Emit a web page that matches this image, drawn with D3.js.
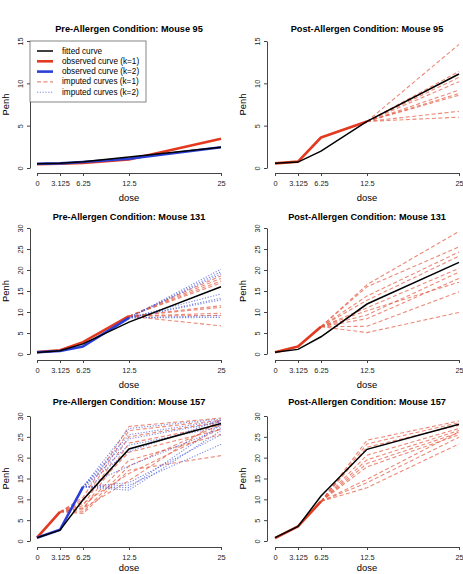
<!DOCTYPE html>
<html><head><meta charset="utf-8">
<script src="https://cdn.jsdelivr.net/npm/d3@7"></script>
<style>body{margin:0;background:#fff}svg{display:block;font-family:"Liberation Sans",Arial,sans-serif}</style>
</head><body><svg id="c" width="463" height="574"></svg>
<script>
const doses = [0, 3.125, 6.25, 12.5, 25];
const doseLabels = ["0", "3.125", "6.25", "12.5", "25"];
const titles = ["Pre-Allergen Condition: Mouse 95", "Post-Allergen Condition: Mouse 95",
  "Pre-Allergen Condition: Mouse 131", "Post-Allergen Condition: Mouse 131",
  "Pre-Allergen Condition: Mouse 157", "Post-Allergen Condition: Mouse 157"];
const yMaxes = [15, 15, 30, 30, 30, 30];
const legendLabels = ["fitted curve", "observed curve (k=1)", "observed curve (k=2)", "imputed curves (k=1)", "imputed curves (k=2)"];

// fitted curves
const pre95Fitted = [0.5, 0.55, 0.75, 1.3, 2.45];
const post95Fitted = [0.55, 0.7, 2.0, 5.5, 11.1];
const pre131Fitted = [0.35, 0.8, 2.4, 7.6, 16.0];
const post131Fitted = [0.4, 1.1, 4.1, 11.9, 21.8];
const pre157Fitted = [0.8, 2.6, 9.9, 22.1, 28.2];
const post157Fitted = [0.8, 3.5, 10.8, 22.0, 28.0];
// observed curves (values at the first doses)
const pre95Obs1 = [0.45, 0.5, 0.6, 1.0, 3.45];
const pre95Obs2 = [0.5, 0.55, 0.7, 1.1, 2.45];
const post95Obs1 = [0.55, 0.75, 3.6, 5.5];
const pre131Obs1 = [0.45, 0.9, 2.8, 9.0];
const pre131Obs2 = [0.4, 0.7, 1.8, 8.6];
const post131Obs1 = [0.4, 1.8, 6.5];
const pre157Obs1 = [0.8, 7.0];
const pre157Obs2 = [0.8, 2.7, 13.0];
const post157Obs1 = [0.7, 3.5, 9.5];
// imputed curves (values at the missing doses)
const post95Imp1 = [[14.6], [11.4], [11.1], [10.7], [10.2], [9.2], [8.8], [8.6], [6.7], [6.0]];
const pre131Imp1 = [[18.6], [18.0], [17.4], [16.9], [11.5], [11.1], [9.7], [9.2], [6.7]];
const pre131Imp2 = [[20.2], [19.6], [19.1], [14.3], [13.3], [12.9], [9.1], [8.7]];
const post131Imp1 = [[16.5, 29.2], [16.0, 25.5], [13.8, 24.3], [12.8, 23.3], [11.0, 20.4], [9.3, 19.5], [8.4, 18.0], [10.3, 17.1], [6.6, 14.8], [5.1, 9.9]];
const pre157Imp1 = [[10.5, 27.5, 29.5], [9.5, 26.5, 29.0], [8.5, 25.0, 28.6], [7.5, 23.5, 27.8], [10.0, 21.3, 26.8], [8.0, 19.4, 25.6], [7.0, 18.0, 28.0], [6.6, 17.0, 20.5], [9.0, 16.2, 27.0], [7.8, 14.5, 29.2]];
const pre157Imp2 = [[27.0, 29.3], [25.5, 28.9], [24.5, 28.5], [23.0, 27.4], [21.5, 29.0], [18.0, 27.0], [14.0, 25.5], [13.4, 23.2], [12.8, 28.0], [12.2, 26.5]];
const post157Imp1 = [[24.2, 28.8], [23.3, 28.4], [22.5, 27.8], [20.6, 27.0], [19.5, 26.5], [18.6, 26.0], [17.8, 25.5], [14.8, 26.2], [14.0, 24.9], [12.8, 23.3]];

const panels = [
  {fit: pre95Fitted, obs1: pre95Obs1, obs2: pre95Obs2, imp1: [], imp2: []},
  {fit: post95Fitted, obs1: post95Obs1, obs2: null, imp1: post95Imp1, imp2: []},
  {fit: pre131Fitted, obs1: pre131Obs1, obs2: pre131Obs2, imp1: pre131Imp1, imp2: pre131Imp2},
  {fit: post131Fitted, obs1: post131Obs1, obs2: null, imp1: post131Imp1, imp2: []},
  {fit: pre157Fitted, obs1: pre157Obs1, obs2: pre157Obs2, imp1: pre157Imp1, imp2: pre157Imp2},
  {fit: post157Fitted, obs1: post157Obs1, obs2: null, imp1: post157Imp1, imp2: []}
];

const cols = [{ax: 30, x0: 37, x1: 221}, {ax: 267, x0: 275, x1: 459}];
const rows = [{top: 41, bot: 168, axY: 173, title: 29, dose: 197},
              {top: 228, bot: 354, axY: 360, title: 217, dose: 384},
              {top: 416, bot: 541, axY: 547, title: 402, dose: 567}];

const RED = "#e2391f", BLUE = "#2a3fd8", IMPRED = "#e4593f", IMPBLUE = "#4557d9";
const svg = d3.select("#c");

panels.forEach((p, i) => {
  const c = cols[i % 2], r = rows[Math.floor(i / 2)];
  const x = d3.scaleLinear().domain([0, 25]).range([c.x0, c.x1]);
  const y = d3.scaleLinear().domain([0, yMaxes[i]]).range([r.bot, r.top]);
  const g = svg.append("g");
  const line = d3.line().x(d => x(d[0])).y(d => y(d[1]));
  const toPts = arr => arr.map((v, k) => [doses[k], v]);
  const impPts = (obs, imp) => {
    const n = obs.length;
    return [[doses[n - 1], obs[n - 1]]].concat(imp.map((v, k) => [doses[n + k], v]));
  };
  p.imp1.forEach(im => g.append("path").attr("d", line(impPts(p.obs1, im)))
    .attr("fill", "none").attr("stroke", IMPRED).attr("stroke-width", 1.1)
    .attr("stroke-opacity", 0.7).attr("stroke-dasharray", "4,2.5"));
  p.imp2.forEach(im => g.append("path").attr("d", line(impPts(p.obs2, im)))
    .attr("fill", "none").attr("stroke", IMPBLUE).attr("stroke-width", 1.1)
    .attr("stroke-opacity", 0.7).attr("stroke-dasharray", "1.2,1.6"));
  g.append("path").attr("d", line(toPts(p.obs1))).attr("fill", "none")
    .attr("stroke", RED).attr("stroke-width", 2.6).attr("stroke-linejoin", "round");
  if (p.obs2) g.append("path").attr("d", line(toPts(p.obs2))).attr("fill", "none")
    .attr("stroke", BLUE).attr("stroke-width", 2.6).attr("stroke-linejoin", "round");
  g.append("path").attr("d", line(toPts(p.fit))).attr("fill", "none")
    .attr("stroke", "#000").attr("stroke-width", 1.5);

  const xa = svg.append("g").attr("transform", `translate(0,${r.axY})`)
    .call(d3.axisBottom(x).tickValues(doses).tickFormat((d, k) => doseLabels[k]).tickSize(3).tickSizeOuter(0));
  xa.select(".domain").attr("stroke", "#444");
  xa.selectAll(".tick line").attr("stroke", "#444");
  xa.selectAll("text").attr("font-size", 7.4).attr("fill", "#222").attr("dy", null).attr("y", 10)
    .attr("dominant-baseline", "central").attr("font-family", "Liberation Sans, Arial, sans-serif");
  const ya = svg.append("g").attr("transform", `translate(${c.ax},0)`)
    .call(d3.axisLeft(y).ticks(yMaxes[i] / 5).tickSize(3).tickSizeOuter(0));
  ya.select(".domain").attr("stroke", "#444");
  ya.selectAll(".tick line").attr("stroke", "#444");
  ya.selectAll("text").attr("font-size", 7.4).attr("fill", "#222").attr("x", null).attr("dy", null)
    .attr("text-anchor", "middle").attr("dominant-baseline", "central")
    .attr("transform", "translate(-10,0) rotate(-90)").attr("font-family", "Liberation Sans, Arial, sans-serif");

  svg.append("text").attr("x", (c.x0 + c.x1) / 2).attr("y", r.title).attr("text-anchor", "middle")
    .attr("dominant-baseline", "central").attr("font-weight", "bold").attr("font-size", 9.2).text(titles[i]);
  svg.append("text").attr("x", (c.x0 + c.x1) / 2).attr("y", r.dose).attr("text-anchor", "middle")
    .attr("dominant-baseline", "central").attr("font-size", 9.4).text("dose");
  svg.append("text").attr("transform", `translate(${c.ax - 25},${(r.top + r.bot) / 2}) rotate(-90)`)
    .attr("text-anchor", "middle").attr("dominant-baseline", "central").attr("font-size", 9.4).text("Penh");

  if (i === 0) {
    const lg = svg.append("g");
    lg.append("rect").attr("x", 30).attr("y", 41).attr("width", 116).attr("height", 61)
      .attr("fill", "#fff").attr("stroke", "#666").attr("stroke-width", 0.8);
    const styles = [
      {c: "#000", w: 1.5, d: null, o: 1},
      {c: RED, w: 2.6, d: null, o: 1},
      {c: BLUE, w: 2.6, d: null, o: 1},
      {c: IMPRED, w: 1.1, d: "4,2.5", o: 0.7},
      {c: IMPBLUE, w: 1.1, d: "1.2,1.6", o: 0.7}
    ];
    legendLabels.forEach((t, k) => {
      const yy = 51 + k * 10.3;
      lg.append("line").attr("x1", 37).attr("x2", 53).attr("y1", yy).attr("y2", yy)
        .attr("stroke", styles[k].c).attr("stroke-width", styles[k].w)
        .attr("stroke-dasharray", styles[k].d).attr("stroke-opacity", styles[k].o);
      lg.append("text").attr("x", 62).attr("y", yy).attr("dominant-baseline", "central")
        .attr("font-size", 8.2).text(t);
    });
  }
});
</script></body></html>
